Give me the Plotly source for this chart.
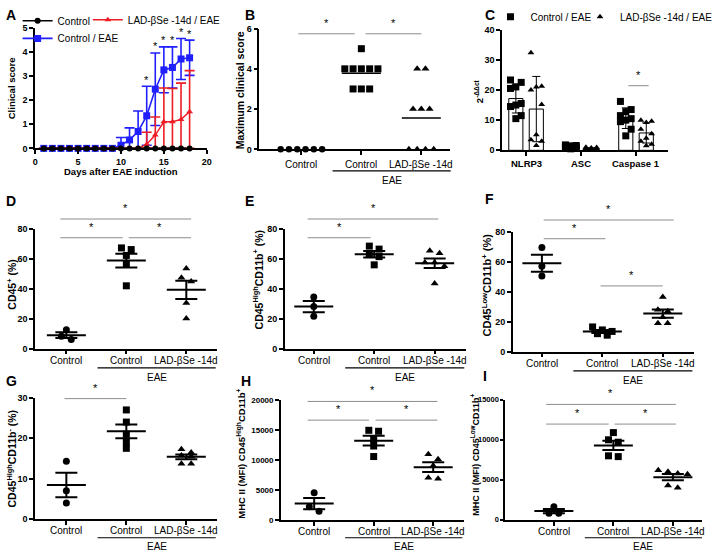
import plotly.graph_objects as go
import numpy as np

W, H = 718, 556
FONT = "Liberation Sans, Arial, Helvetica, sans-serif"
BLUE = "#1f1fff"
RED = "#ee1c24"
GREY = "#8c8c8c"

# ---------------- data ----------------
# Panel A: clinical score over time
days = [1, 2, 3, 4, 5, 6, 7, 8, 9, 10, 11, 12, 13, 14, 15, 16, 17, 18]
a_control = [0, 0, 0, 0, 0, 0, 0, 0, 0, 0, 0, 0, 0, 0, 0, 0, 0, 0]
a_eae = [0, 0, 0, 0, 0, 0, 0, 0, 0, 0.13, 0.35, 0.7, 1.35, 2.45, 3.25, 3.35, 3.7, 3.75]
a_eae_err = [0, 0, 0, 0, 0, 0, 0, 0, 0, 0.32, 0.5, 0.85, 1.22, 1.5, 0.95, 0.85, 0.85, 0.73]
a_lad = [0, 0, 0, 0, 0, 0, 0, 0, 0, 0, 0, 0, 0.17, 0.55, 1.1, 1.1, 1.2, 1.52]
a_lad_err = [0, 0, 0, 0, 0, 0, 0, 0, 0, 0, 0, 0, 0.5, 0.75, 1.4, 1.38, 1.5, 1.7]
a_star_days = [13, 14, 15, 16, 17, 18]

groups = ["Control", "Control", "LAD-βSe -14d"]

# Panel B: maximum clinical score
b_control = [0, 0, 0, 0, 0, 0]
b_eae = [5, 4, 4, 4, 4, 4, 3, 3, 3]
b_lad = [4, 4, 2, 2, 2, 0, 0, 0, 0]

# Panel C: 2^-ddct
c_genes = ["NLRP3", "ASC", "Caspase 1"]
c_ctrl_nlrp3 = [23.3, 22.5, 21.0, 20.5, 15.5, 15.0, 14.5, 11.5, 10.5]
c_lad_nlrp3 = [32.3, 21.2, 21.0, 20.0, 15.2, 5.2, 3.5, 3.0, 1.6]
c_ctrl_asc = [1.8, 1.6, 1.5, 1.3, 1.2, 1.0, 0.9, 0.7, 0.5]
c_lad_asc = [1.0, 0.9, 0.8, 0.7, 0.6, 0.5, 0.5, 0.4, 0.3]
c_ctrl_casp = [16.2, 13.5, 12.8, 11.5, 10.5, 10.0, 9.5, 7.0, 4.8]
c_lad_casp = [10.0, 9.6, 9.2, 7.0, 5.5, 4.0, 3.0, 2.0, 1.5]

# Panels D-I: flow cytometry
d_ctrl = [12.7, 8.3, 6.1]
d_eae = [67.3, 66.2, 62.3, 56.4, 42.0]
d_lad = [53.6, 47.4, 44.8, 30.6, 20.1]
e_ctrl = [34.6, 28.2, 21.6]
e_eae = [68.5, 66.5, 63.0, 61.5, 56.0]
e_lad = [65.4, 63.8, 57.5, 57.5, 55.0, 43.5]
f_ctrl = [69.6, 57.0, 50.5]
f_eae = [16.5, 14.5, 13.5, 12.0, 11.0]
f_lad = [36.5, 28.0, 27.0, 23.0, 19.0, 19.0]
g_ctrl = [14.3, 7.0, 4.0]
g_eae = [27.0, 24.0, 21.0, 19.0, 17.5]
g_lad = [17.3, 16.5, 15.7, 15.5, 13.7, 13.7]
h_ctrl = [4536, 2186, 1421]
h_eae = [14918, 14754, 13388, 12295, 10546]
h_lad = [10929, 10109, 9016, 6995, 6830]
i_ctrl = [1639, 820, 820]
i_eae = [10900, 10000, 9700, 8000, 7900]
i_lad = [6200, 6000, 5800, 5700, 4300, 4000]

# significance bars: (x_from, x_to, y_level) in each panel's data units
sig_B = [(-0.05, 0.89, 5.74), (1.07, 2.0, 5.74)]
sig_C = [(1.86, 2.23, 21.4)]
sig_D = [(-0.1, 2.08, 86.6), (-0.1, 0.94, 74.1), (1.04, 2.08, 74.1)]
sig_E = [(-0.1, 2.06, 86.6), (-0.1, 0.94, 74.1)]
sig_F = [(0.03, 2.18, 87.9), (0.03, 1.05, 75.4), (0.97, 2.0, 43.9)]
sig_G = [(-0.03, 1.0, 29.8)]
sig_H = [(-0.11, 2.07, 19721), (-0.11, 0.92, 16607), (1.03, 2.07, 16607)]
sig_I = [(-0.13, 2.05, 14422), (-0.13, 0.92, 11963), (1.02, 2.05, 11963)]

# ---------------- layout geometry ----------------
panels = {
    'A': dict(xpx=(33, 209), ypx=(23, 146), xr=(0, 20), yr=(0, 5), dt=1),
    'B': dict(xpx=(263, 458), ypx=(24, 147), xr=(-0.70, 2.47), yr=(0, 6), dt=2),
    'C': dict(xpx=(512, 682), ypx=(25, 148), xr=(-0.435, 2.58), yr=(0, 40), dt=10),
    'D': dict(xpx=(33, 220), ypx=(228, 350), xr=(-0.52, 2.52), yr=(0, 80), dt=20),
    'E': dict(xpx=(289, 475), ypx=(228, 350), xr=(-0.48, 2.52), yr=(0, 80), dt=20),
    'F': dict(xpx=(523, 709), ypx=(231, 353), xr=(-0.48, 2.52), yr=(0, 80), dt=20),
    'G': dict(xpx=(33, 220), ypx=(400, 523.5), xr=(-0.52, 2.52), yr=(0, 30), dt=10),
    'H': dict(xpx=(285, 473), ypx=(402, 524.3), xr=(-0.56, 2.52), yr=(0, 20000), dt=5000),
    'I': dict(xpx=(515, 717), ypx=(402, 524.3), xr=(-0.82, 2.49), yr=(0, 15000), dt=5000),
}
names = "ABCDEFGHI"


def ref(P):
    k = names.index(P)
    return ("x", "y") if k == 0 else (f"x{k+1}", f"y{k+1}")


def ppx(P):
    p = panels[P]
    return (p['xpx'][1] - p['xpx'][0]) / (p['xr'][1] - p['xr'][0])


def ppy(P):
    p = panels[P]
    return (p['ypx'][1] - p['ypx'][0]) / (p['yr'][1] - p['yr'][0])


def to_px(P, xv, yv):
    p = panels[P]
    px = p['xpx'][0] + (xv - p['xr'][0]) * ppx(P)
    py = p['ypx'][1] - (yv - p['yr'][0]) * ppy(P)
    return px, py


def PX(x):
    return x / W


def PY(y):
    return 1 - y / H


def swarm(P, vals, thresh=6.0, spacing=9.0):
    order = sorted(range(len(vals)), key=lambda k: -vals[k])
    rows = []
    for k in order:
        if rows and (vals[rows[-1][0]] - vals[k]) * ppy(P) < thresh:
            rows[-1].append(k)
        else:
            rows.append([k])
    offs = [0.0] * len(vals)
    for r in rows:
        n = len(r)
        for j, k in enumerate(r):
            offs[k] = (j - (n - 1) / 2) * spacing / ppx(P)
    return offs


fig = go.Figure()
shapes = []
annos = []


def txt(x, y, s, size=10, bold=False, angle=0, xanchor='center', yanchor='middle', color='black'):
    annos.append(dict(x=PX(x), y=PY(y), xref='paper', yref='paper', text=s, showarrow=False,
                      textangle=angle, xanchor=xanchor, yanchor=yanchor,
                      font=dict(family=FONT, size=size, color=color, weight='bold' if bold else 'normal')))


def hline(x0, x1, y, color='black', width=1.2):
    shapes.append(dict(type='line', xref='paper', yref='paper', x0=PX(x0), x1=PX(x1), y0=PY(y), y1=PY(y),
                       line=dict(color=color, width=width)))


def add_sig(P, sigs):
    for (a, b, lv) in sigs:
        x0, y = to_px(P, a, lv)
        x1, _ = to_px(P, b, lv)
        hline(x0, x1, y, GREY, 1)
        txt((x0 + x1) / 2, y - 3, "*", size=11, yanchor='bottom')


def add_cats(P, labels, dy=12, bold=False, size=10):
    for gi, lab in enumerate(labels):
        px, _ = to_px(P, gi, 0)
        txt(px, panels[P]['ypx'][1] + dy, lab, size=size, bold=bold)


def add_eae(P, ybar, ytext):
    x0, _ = to_px(P, 0.52, 0)
    x1, _ = to_px(P, 2.49, 0)
    hline(x0, x1, ybar, 'black', 1.2)
    txt((x0 + x1) / 2, ytext, "EAE", size=10)


# ---------------- Panel A ----------------
xa, ya = ref('A')
fig.add_trace(go.Scatter(x=days, y=a_eae, mode='lines+markers', name='Control / EAE', legend='legend2',
                         xaxis=xa, yaxis=ya, cliponaxis=False,
                         line=dict(color=BLUE, width=1.6), marker=dict(symbol='square', size=7, color=BLUE),
                         error_y=dict(type='data', array=a_eae_err, color=BLUE, thickness=1.6, width=5)))
lad_minus = [min(e, v) for e, v in zip(a_lad_err, a_lad)]
fig.add_trace(go.Scatter(x=days, y=a_lad, mode='lines+markers', name='LAD-βSe -14d / EAE', legend='legend3',
                         xaxis=xa, yaxis=ya, cliponaxis=False,
                         line=dict(color=RED, width=1.4), marker=dict(symbol='triangle-up', size=6, color=RED),
                         error_y=dict(type='data', array=a_lad_err, arrayminus=lad_minus, color=RED, thickness=1.6, width=5)))
fig.add_trace(go.Scatter(x=days, y=a_control, mode='lines+markers', name='Control', legend='legend',
                         xaxis=xa, yaxis=ya, cliponaxis=False,
                         line=dict(color='black', width=1.6), marker=dict(symbol='circle', size=6, color='black')))
for d in a_star_days:
    i = days.index(d)
    top = a_eae[i] + a_eae_err[i]
    px, py = to_px('A', d, top)
    txt(px, py + 1.5, "*", size=11, yanchor='bottom')

# ---------------- Panel B ----------------
xb, yb = ref('B')
for gi, (vals, sym, sz) in enumerate([(b_control, 'circle', 6.5), (b_eae, 'square', 7), (b_lad, 'triangle-up', 7)]):
    offs = swarm('B', vals, thresh=6, spacing=8.5)
    fig.add_trace(go.Scatter(x=[gi + o for o in offs], y=vals, mode='markers', showlegend=False,
                             xaxis=xb, yaxis=yb, cliponaxis=False,
                             marker=dict(symbol=sym, size=sz, color='black')))
    if gi > 0:
        m = float(np.mean(vals))
        hw = 20 / ppx('B')
        fig.add_trace(go.Scatter(x=[gi - hw, gi + hw], y=[m, m], mode='lines', showlegend=False,
                                 xaxis=xb, yaxis=yb, cliponaxis=False, line=dict(color='black', width=1.6)))
add_sig('B', sig_B)
add_cats('B', groups, dy=15)
add_eae('B', 169, 179)

# ---------------- Panel C ----------------
xc, yc = ref('C')
ctrl_sets = [c_ctrl_nlrp3, c_ctrl_asc, c_ctrl_casp]
lad_sets = [c_lad_nlrp3, c_lad_asc, c_lad_casp]
boff = 10.5 / ppx('C')
bw = 14.5 / ppx('C')
for sets, sgn, sym, sz, nm, lg in [(ctrl_sets, -1, 'square', 7, 'Control / EAE', 'legend4'),
                                  (lad_sets, 1, 'triangle-up', 6, 'LAD-βSe -14d / EAE', 'legend5')]:
    means = [float(np.mean(s)) for s in sets]
    sds = [float(np.std(s, ddof=1)) for s in sets]
    xs = [gi + sgn * boff for gi in range(3)]
    fig.add_trace(go.Bar(x=xs, y=means, width=bw, showlegend=False, xaxis=xc, yaxis=yc,
                         marker=dict(color='white', line=dict(color='black', width=1)),
                         error_y=dict(type='data', array=sds, color='black', thickness=1, width=4)))
    px_pts, py_pts = [], []
    for gi, s in enumerate(sets):
        order = sorted(range(len(s)), key=lambda k: -s[k])
        pattern = [-5.5, 5.5, 0.0]
        for rank, k in enumerate(order):
            px_pts.append(gi + sgn * boff + pattern[rank % 3] / ppx('C'))
            py_pts.append(s[k])
    fig.add_trace(go.Scatter(x=px_pts, y=py_pts, mode='markers', name=nm, legend=lg,
                             xaxis=xc, yaxis=yc, cliponaxis=False,
                             marker=dict(symbol=sym, size=sz, color='black')))
add_sig('C', sig_C)
add_cats('C', c_genes, dy=13, bold=True, size=9.5)

# ---------------- Panels D-I ----------------
dot_data = {
    'D': (d_ctrl, d_eae, d_lad), 'E': (e_ctrl, e_eae, e_lad), 'F': (f_ctrl, f_eae, f_lad),
    'G': (g_ctrl, g_eae, g_lad), 'H': (h_ctrl, h_eae, h_lad), 'I': (i_ctrl, i_eae, i_lad),
}
sig_all = {'D': sig_D, 'E': sig_E, 'F': sig_F, 'G': sig_G, 'H': sig_H, 'I': sig_I}
for P, sets in dot_data.items():
    xr_, yr_ = ref(P)
    for gi, (vals, sym, sz) in enumerate(zip(sets, ['circle', 'square', 'triangle-up'], [7, 7, 7])):
        offs = swarm(P, vals, thresh=6, spacing=10)
        fig.add_trace(go.Scatter(x=[gi + o for o in offs], y=vals, mode='markers', showlegend=False,
                                 xaxis=xr_, yaxis=yr_, cliponaxis=False,
                                 marker=dict(symbol=sym, size=sz, color='black')))
        m = float(np.mean(vals))
        sem = float(np.std(vals, ddof=1) / np.sqrt(len(vals)))
        hw = 20 / ppx(P)
        fig.add_trace(go.Scatter(x=[gi - hw, gi + hw], y=[m, m], mode='lines', showlegend=False,
                                 xaxis=xr_, yaxis=yr_, cliponaxis=False, line=dict(color='black', width=2)))
        fig.add_trace(go.Scatter(x=[gi], y=[m], mode='markers', showlegend=False,
                                 xaxis=xr_, yaxis=yr_, cliponaxis=False,
                                 marker=dict(size=1, color='rgba(0,0,0,0)'),
                                 error_y=dict(type='data', array=[sem], color='black', thickness=2, width=11)))
    add_sig(P, sig_all[P])
    add_cats(P, groups, dy=12)

for P in "DEF":
    add_eae(P, panels[P]['ypx'][1] + 19.5, panels[P]['ypx'][1] + 29)
for P in "GHI":
    add_eae(P, 542.5, 551)

# ---------------- axes ----------------
layout = dict(width=W, height=H, margin=dict(l=0, r=0, t=0, b=0), paper_bgcolor='white',
              plot_bgcolor='white', font=dict(family=FONT, color='black', size=10), showlegend=True,
              barmode='overlay')
tick_sizes = dict(A=9, B=9, C=9, D=9, E=9, F=9, G=9, H=8, I=7.5)
tick_lens = dict(A=4, B=4, C=4, D=4, E=4, F=4, G=4, H=4, I=3)
for k, P in enumerate(names):
    p = panels[P]
    xn = 'xaxis' if k == 0 else f'xaxis{k+1}'
    yn = 'yaxis' if k == 0 else f'yaxis{k+1}'
    xr_, yr_ = ref(P)
    common = dict(showline=True, linecolor='black', linewidth=1.5, ticks='outside',
                  tickwidth=1.5, tickcolor='black', showgrid=False, zeroline=False, fixedrange=True)
    if P == 'A':
        xt = dict(tickvals=[0, 5, 10, 15, 20], tickfont=dict(size=9, weight='bold', family=FONT))
    else:
        xt = dict(tickvals=[0, 1, 2], showticklabels=False)
    layout[xn] = dict(domain=[PX(p['xpx'][0]), PX(p['xpx'][1])], range=list(p['xr']), anchor=yr_,
                      ticklen=4, **xt, **common)
    layout[yn] = dict(domain=[PY(p['ypx'][1]), PY(p['ypx'][0])], range=list(p['yr']), anchor=xr_,
                      dtick=p['dt'], tick0=0, tickformat='d', ticklen=tick_lens[P],
                      tickfont=dict(size=tick_sizes[P], weight='bold', family=FONT), **common)

# legends
leg_common = dict(bgcolor='rgba(0,0,0,0)', font=dict(family=FONT, size=10), xanchor='left', yanchor='middle',
                  orientation='h', itemwidth=30, borderwidth=0, tracegroupgap=0)
layout['legend'] = dict(x=PX(15), y=PY(16), **leg_common)
layout['legend2'] = dict(x=PX(15), y=PY(34), **leg_common)
layout['legend3'] = dict(x=PX(87), y=PY(15), **leg_common)
layout['legend4'] = dict(x=PX(500), y=PY(12), **leg_common)
layout['legend5'] = dict(x=PX(592), y=PY(12), **leg_common)

# panel letters
for P, (x, y) in dict(A=(1, 10), B=(246, 10), C=(492, 10), D=(1, 200), E=(246, 200), F=(492, 198),
                      G=(1, 383), H=(242, 383), I=(490, 378)).items():
    txt(x, y, P, size=14, bold=True, xanchor='left')

# axis titles
txt(121, 170, "Days after EAE induction", size=9.5, bold=True)
ytitles = [
    (9, 85, "Clinical score", 9.5),
    (244, 87, "Maximum clinical score", 10.5),
    (489, 88, "2<sup>-ΔΔct</sup>", 9.5),
    (9, 285, "CD45<sup>+</sup> (%)", 10.5),
    (262, 280, "CD45<sup>High</sup>CD11b<sup>+</sup> (%)", 10.5),
    (496, 285, "CD45<sup>Low</sup>CD11b<sup>+</sup> (%)", 11),
    (9, 462, "CD45<sup>High</sup>CD11b<sup>-</sup> (%)", 10.5),
    (244, 457, "MHC II (MFI) CD45<sup>High</sup>CD11b<sup>+</sup>", 9.5),
    (484, 458, "MHC II (MFI) CD45<sup>Low</sup>CD11b<sup>+</sup>", 9),
]
for x, y, s, sz in ytitles:
    txt(x, y, s, size=sz, bold=True, angle=-90)

layout['shapes'] = shapes
layout['annotations'] = annos
fig.update_layout(**layout)
fig.write_html("out.html", config={'displayModeBar': False},
               post_script="document.body.style.margin='0';document.body.style.overflow='hidden';")
